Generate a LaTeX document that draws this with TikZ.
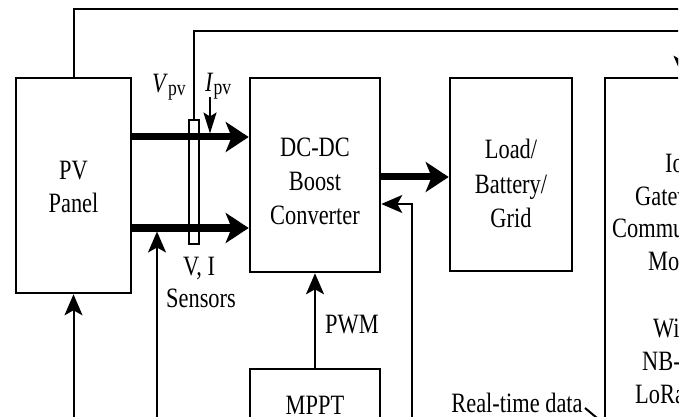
\documentclass[tikz,border=0pt]{standalone}
\usepackage{fontspec}
\setmainfont{Liberation Serif}[FakeStretch=0.8]
\usetikzlibrary{arrows.meta}
\begin{document}
\begin{tikzpicture}[x=1pt,y=-1pt,
  box/.style={draw, line width=2.6pt, inner sep=0pt},
  txt/.style={anchor=base, inner sep=0pt, font=\fontsize{28}{34}\selectfont},
  txtw/.style={txt, anchor=base west},
  thinline/.style={line width=2pt},
  thinarrow/.style={line width=2pt, -{Stealth[length=21pt,width=18pt,inset=5pt]}},
  smallarrow/.style={line width=2pt, -{Stealth[length=21pt,width=13pt,inset=4pt]}},
  thickarrow/.style={line width=7pt, -{Stealth[length=23pt,width=30pt,inset=6pt]}},
]
\fill[white] (0,0) rectangle (694,417);
\useasboundingbox (0,0) rectangle (694,417);
\begin{scope}
\clip (0,0) rectangle (678,417);
% boxes
\node[box, minimum width=115pt, minimum height=215pt] (pv) at (73.5,185.5) {};
\node[box, minimum width=130pt, minimum height=194pt] (dc) at (315,175) {};
\node[box, minimum width=122pt, minimum height=193pt] (load) at (511,174.5) {};
\node[box, minimum width=155pt, minimum height=382pt] (iot) at (682.5,269) {};
\node[box, minimum width=130pt, minimum height=72pt] (mppt) at (315,405) {};
\node[draw, line width=2pt, inner sep=0pt, minimum width=10pt, minimum height=124pt] (sens) at (194,182) {};
% coordinates for free ends
\coordinate (topy) at (0,9);
\coordinate (secy) at (0,31);
\coordinate (boty) at (0,430);
\coordinate (farright) at (780,0);
\coordinate (jx) at (157,231.5);
\coordinate (fbx) at (412,0);
\coordinate (ipvs) at (210,97);
\coordinate (ipve) at (210,133.5);
\coordinate (rts) at (585,408);
\coordinate (rte) at (603,423);
% connectors
\draw[thinline] (pv.north) |- (topy -| farright);
\draw[thinarrow] (sens.north) |- (secy -| iot.north) -- (iot.north);
\draw[thickarrow] ([yshift=48.5pt]pv.east) -- ([yshift=48.5pt]pv.east -| dc.west);
\draw[thickarrow] ([yshift=-42.5pt]pv.east) -- ([yshift=-42.5pt]pv.east -| dc.west);
\draw[thickarrow] ([yshift=-2pt]dc.east) -- ([yshift=-2pt]dc.east -| load.west);
\draw[thinarrow] (pv.south |- boty) -- (pv.south);
\draw[thinarrow] (jx |- boty) -- (jx);
\draw[thinarrow] (mppt.north) -- (dc.south);
\draw[thinarrow] (fbx |- boty) |- ([yshift=-29pt]dc.east);
\draw[smallarrow] (ipvs) -- (ipve);
\draw[thinline] (rts) -- (rte);
% texts
\node[txt] (t1) at (73.5,180) {PV};
\node[txt] (t2) at (73.5,212) {Panel};
\node[txt] (t3) at (315,157) {DC-DC};
\node[txt] (t4) at (315,191) {Boost};
\node[txt] (t5) at (315,225) {Converter};
\node[txt] (t6) at (511,159) {Load/};
\node[txt] (t7) at (511,193.5) {Battery/};
\node[txt] (t8) at (511,228) {Grid};
\node[txtw] (t9) at (665,173) {IoT};
\node[txtw] (t10) at (635,205) {Gateway/};
\node[txtw] (t11) at (612,237) {Communication};
\node[txtw] (t12) at (648,270) {Module};
\node[txtw] (t13) at (653,337) {Wi-Fi/};
\node[txtw] (t14) at (642,370) {NB-IoT/};
\node[txtw] (t15) at (635,403) {LoRa};
\node[txt] (t16) at (199,275) {V, I};
\node[txt] (t17) at (201,307) {Sensors};
\node[txt] (t18) at (352,333) {PWM};
\node[txt] (t19) at (315,414) {MPPT};
\node[txt] (t20) at (517,412) {Real-time data};
\node[txtw] (t21) at (152,93) {\textit{V}\raisebox{-3pt}{\fontsize{22}{22}\selectfont pv}};
\node[txtw] (t22) at (205,92) {\textit{I}\raisebox{-3pt}{\fontsize{22}{22}\selectfont pv}};
\end{scope}
\end{tikzpicture}
\end{document}
